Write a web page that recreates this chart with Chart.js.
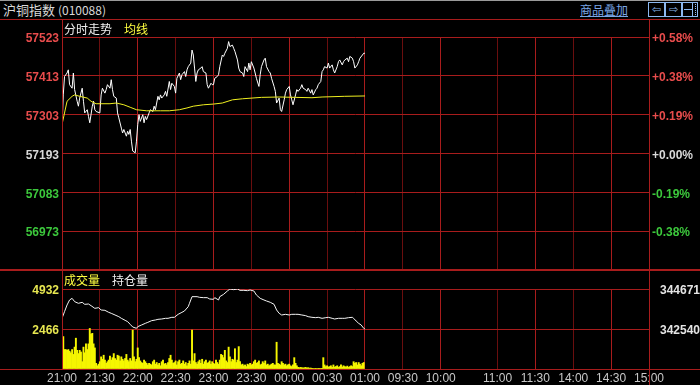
<!DOCTYPE html>
<html>
<head>
<meta charset="utf-8">
<script src="https://cdn.jsdelivr.net/npm/chart.js@4.4.1/dist/chart.umd.min.js"></script>
<style>
body { margin: 0; background: #000; }
#wrap { position: relative; width: 700px; height: 385px; background: #000; overflow: hidden;
        font-family: "Noto Sans CJK SC", "Liberation Sans", sans-serif; }
.txt { position: absolute; font-size: 12px; line-height: 14px; white-space: nowrap; }
.hl { position: absolute; left: 0; width: 700px; height: 1px; background: #a81c1c; }
.vl { position: absolute; width: 1px; background: #a81c1c; }
.btn { position: absolute; top: 2px; width: 15px; height: 13px; border: 1px solid #8cb8f0; color: #8cb8f0;
       font: 11px/13px "DejaVu Sans", sans-serif; text-align: center; }
#price_chart { position: absolute; left: 0; top: 19px; }
#vol_chart { position: absolute; left: 0; top: 271px; }
</style>
</head>
<body>
<div id="wrap">
  <div style="position:absolute;left:0;top:0;width:700px;height:1px;background:#9a9a9a"></div>
  <div class="txt" style="left:3px;top:3px;color:#d8d8d8;font-size:13px">沪铜指数 <span style="font-size:12px">(010088)</span></div>
  <div class="txt" style="left:580px;top:3px;color:#7aa6e6;font-size:12px;text-decoration:underline">商品叠加</div>
  <div class="btn" style="left:648px">⇦</div>
  <div class="btn" style="left:665px">⇨</div>
  <div class="btn" style="left:682px;width:14px">
    <div style="position:absolute;left:1px;top:6px;width:8px;height:1px;background:#8cb8f0"></div>
    <div style="position:absolute;left:9px;top:0;width:1px;height:13px;background:#8cb8f0"></div>
    <div style="position:absolute;left:12px;top:1px;width:1px;height:11px;border-left:1px dotted #8cb8f0"></div>
  </div>

  <canvas id="price_chart" width="700" height="252"></canvas>
  <canvas id="vol_chart" width="700" height="114"></canvas>

  <div class="hl" style="top:19px"></div>
  <div class="hl" style="top:269px;height:2px"></div>
  <div class="hl" style="top:369px"></div>
  <div class="vl" style="left:62px;top:19px;height:351px"></div>
  <div class="vl" style="left:649px;top:19px;height:366px"></div>

  <div class="txt" style="left:64px;top:22px;color:#f0f0f0">分时走势</div>
  <div class="txt" style="left:124px;top:22px;color:#ffff40">均线</div>
  <div class="txt" style="left:64px;top:273px;color:#ffff40">成交量</div>
  <div class="txt" style="left:112px;top:273px;color:#f0f0f0">持仓量</div>
</div>

<script>
// time axis: minutes counted from 21:00 on the trading clock
var tickMinutes = [0, 30, 60, 90, 120, 150, 180, 210, 240, 270, 300, 345, 375, 405, 435, 465];
var tickLabels = ['21:00', '21:30', '22:00', '22:30', '23:00', '23:30', '00:00', '00:30', '01:00',
                  '09:30', '10:00', '11:00', '11:30', '14:00', '14:30', '15:00'];

var basePrice = 57193;
var priceTicks = [56863, 56973, 57083, 57193, 57303, 57413, 57523];

var priceMin = [0, 1, 2, 4, 5, 6, 8, 9, 10, 12, 13, 14, 16, 17, 18, 20, 21, 22, 24, 25, 26, 27, 30, 31, 32, 34, 35, 36, 38, 39,
    40, 41, 43, 44, 45, 47, 48, 49, 51, 52, 53, 54, 55, 56, 58, 59, 60, 61, 62, 64, 65, 66, 67, 69, 70, 72, 73, 74, 76, 77,
    78, 79, 81, 82, 83, 85, 86, 87, 89, 90, 91, 93, 94, 95, 97, 98, 99, 100, 102, 103, 104, 105, 106, 107, 108, 110, 111, 112, 114, 115,
    116, 118, 119, 120, 121, 123, 124, 125, 127, 128, 129, 131, 132, 133, 135, 136, 137, 139, 140, 141, 143, 144, 145, 147, 148, 149, 150, 152, 153, 154,
    156, 157, 158, 160, 161, 162, 164, 165, 166, 168, 169, 170, 172, 173, 174, 176, 177, 178, 180, 181, 182, 183, 185, 186, 187, 189, 190, 191, 193, 194,
    195, 197, 198, 199, 201, 202, 203, 205, 206, 207, 208, 210, 211, 212, 214, 215, 216, 218, 219, 220, 222, 223, 224, 226, 227, 228, 230, 231, 232, 234,
    235, 236, 238, 239, 240];
var priceVal = [57265, 57359, 57411, 57421, 57430, 57388, 57378, 57421, 57374, 57341, 57327, 57350, 57378, 57341, 57308, 57317, 57298, 57280, 57327, 57341, 57317, 57312, 57308, 57359, 57378, 57364, 57374, 57388, 57378, 57402,
    57374, 57355, 57350, 57308, 57294, 57265, 57251, 57261, 57242, 57256, 57247, 57261, 57228, 57200, 57195, 57228, 57275, 57303, 57284, 57303, 57280, 57298, 57289, 57308, 57317, 57312, 57327, 57317, 57355, 57345,
    57359, 57350, 57359, 57369, 57355, 57397, 57374, 57392, 57383, 57364, 57406, 57421, 57402, 57416, 57425, 57411, 57430, 57439, 57449, 57486, 57472, 57435, 57397, 57421, 57430, 57435, 57439, 57425, 57421, 57388,
    57378, 57392, 57388, 57388, 57406, 57411, 57416, 57439, 57472, 57468, 57477, 57491, 57510, 57496, 57500, 57491, 57482, 57458, 57435, 57425, 57421, 57411, 57439, 57425, 57449, 57430, 57453, 57435, 57421, 57406,
    57383, 57416, 57439, 57458, 57463, 57439, 57425, 57421, 57406, 57383, 57369, 57336, 57350, 57317, 57312, 57345, 57364, 57374, 57383, 57359, 57345, 57331, 57359, 57374, 57369, 57378, 57388, 57378, 57374, 57369,
    57378, 57364, 57374, 57359, 57374, 57378, 57388, 57397, 57425, 57430, 57439, 57435, 57449, 57435, 57444, 57430, 57421, 57439, 57453, 57458, 57444, 57453, 57458, 57463, 57453, 57468, 57463, 57453, 57435, 57444,
    57453, 57463, 57472, 57477, 57477];

var avgMin = [0, 4, 8, 10, 14, 20, 23, 27, 38, 43, 49, 54, 59, 67, 78, 85, 93, 99, 104, 112, 120, 127, 135, 143, 158, 172, 185, 198, 206, 224, 240];
var avgVal = [57275, 57341, 57355, 57359, 57355, 57350, 57341, 57334, 57334, 57336, 57331, 57324, 57317, 57314, 57314, 57314, 57317, 57322, 57327, 57331,
    57333, 57336, 57345, 57348, 57352, 57353, 57352, 57351, 57353, 57355, 57356];

// volume per minute, 21:00 .. 00:59
var volTicks = [0, 2466, 4932];
var volVal = [
    4800, 2000, 1200, 1200, 1150, 1200, 1100, 1000, 1200, 900,
    1350, 1900, 1150, 950, 1150, 1050, 450, 1350, 1000, 1550,
    1200, 1550, 2500, 2150, 2200, 1550, 1300, 350, 200, 300,
    450, 750, 600, 850, 550, 350, 450, 550, 800, 550,
    700, 950, 650, 550, 850, 800, 500, 750, 600, 500,
    650, 900, 550, 450, 650, 500, 2400, 750, 450, 600,
    1300, 700, 500, 400, 350, 550, 450, 350, 250, 350,
    300, 250, 450, 550, 300, 400, 250, 350, 200, 450,
    550, 300, 350, 250, 400, 650, 850, 550, 350, 400,
    500, 250, 450, 550, 300, 350, 500, 300, 400, 200,
    350, 500, 300, 2400, 500, 950, 400, 300, 450, 550,
    350, 600, 300, 450, 550, 350, 400, 500, 300, 450,
    350, 300, 550, 400, 300, 550, 900, 850, 700, 1150,
    500, 400, 1350, 750, 450, 600, 550, 1250, 400, 550,
    1380, 450, 250, 300, 200, 250, 150, 300, 250, 350,
    250, 300, 450, 550, 350, 400, 500, 250, 300, 450,
    350, 500, 250, 300, 200, 250, 300, 350, 250, 250,
    1650, 350, 300, 250, 450, 350, 250, 300, 200, 250,
    300, 200, 150, 250, 700, 350, 200, 100, 80, 100,
    80, 60, 80, 100, 60, 80, 50, 60, 40, 30,
    30, 20, 30, 20, 20, 30, 20, 700, 250, 150,
    200, 120, 150, 200, 100, 250, 120, 150, 200, 100,
    150, 250, 120, 200, 150, 120, 180, 100, 150, 200,
    150, 450, 350, 400, 250, 400, 300, 200, 350, 400];

var oiTicks = [340409, 342540, 344671];
var oiMin = [0, 2, 4, 6, 8, 10, 13, 16, 18, 21, 23, 26, 29, 31, 34, 37, 39, 42, 45, 47, 50, 52, 54, 56, 59, 60, 63, 66, 68, 71,
    74, 76, 79, 82, 84, 87, 89, 92, 95, 97, 100, 101, 103, 107, 109, 112, 115, 117, 120, 121, 124, 125, 128, 131, 133, 136, 139, 141, 144, 147,
    149, 152, 154, 157, 160, 162, 165, 168, 170, 172, 174, 177, 180, 182, 185, 187, 190, 193, 195, 198, 201, 203, 206, 209, 211, 214, 216, 219, 222, 224,
    227, 230, 231, 233, 235, 237, 239, 240];
var oiVal = [343109, 343464, 343819, 344085, 344174, 343997, 343908, 343961, 343854, 343872, 343783, 343641, 343677, 343553, 343535, 343428, 343375, 343286, 343197, 343109,
    343002, 342931, 342789, 342647, 342576, 342665, 342753, 342842, 342895, 342984, 343020, 343055, 343073, 343109, 343109, 343162, 343162, 343322, 343428, 343499,
    343730, 343908, 344263, 344263, 344227, 344210, 344210, 344139, 344121, 344210, 344085, 344263, 344387, 344565, 344671, 344636, 344671, 344600, 344600, 344583,
    344618, 344565, 344352, 344174, 344085, 344032, 343961, 343854, 343553, 343375, 343286, 343322, 343286, 343322, 343322, 343322, 343286, 343251, 343197, 343162,
    343144, 343162, 343109, 343144, 343162, 343109, 343073, 343109, 343109, 343109, 343144, 343162, 343109, 342966, 342842, 342753, 342576, 342540];

var gridRed = '#a81c1c';
var gridDim = '#6a0e0e';

function pairs(xs, ys) {
    return xs.map(function (x, i) { return {x: x, y: ys[i]}; });
}

// keep the plot box fixed: no extra room for half labels at the ends
function noEndPadding(scale) {
    scale.paddingTop = 0;
    scale.paddingBottom = 0;
}

function timeAxis(showLabels) {
    return {
        type: 'linear',
        min: 0,
        max: 465,
        offset: false,
        afterBuildTicks: function (scale) {
            scale.ticks = tickMinutes.map(function (v) { return {value: v}; });
        },
        afterFit: function (scale) {
            scale.height = showLabels ? 16 : 1;
            scale.paddingLeft = 0;
            scale.paddingRight = 0;
        },
        border: {display: false},
        grid: {
            drawTicks: false,
            offset: false,
            color: function (ctx) { return ctx.index % 2 ? gridDim : gridRed; },
        },
        ticks: {
            display: showLabels,
            autoSkip: false,
            maxRotation: 0,
            padding: 2,
            color: '#c8c8c8',
            font: {family: 'Liberation Sans', size: 12},
            callback: function (v) { return tickLabels[tickMinutes.indexOf(v)]; }
        }
    };
}

function priceColor(ctx) {
    var v = ctx.tick.value;
    if (v > basePrice) return '#e84c4c';
    if (v < basePrice) return '#3cc83c';
    return '#d8d8d8';
}

function priceAxis(pos) {
    return {
        position: pos,
        min: priceTicks[0],
        max: priceTicks[priceTicks.length - 1],
        afterBuildTicks: function (scale) {
            scale.ticks = priceTicks.map(function (v) { return {value: v}; });
        },
        afterFit: function (scale) {
            scale.width = pos == 'left' ? 62 : 51;
            noEndPadding(scale);
        },
        border: {display: false},
        grid: {display: pos == 'left', drawTicks: false, color: gridRed},
        ticks: {
            padding: 3,
            labelOffset: 2,
            color: priceColor,
            font: {family: 'Liberation Sans', size: 12, weight: 'bold'},
            callback: function (v) {
                if (v == priceTicks[0]) return '';
                if (pos == 'left') return String(v);
                var pct = (v - basePrice) / basePrice * 100;
                return (pct >= 0 ? '+' : '') + pct.toFixed(2) + '%';
            }
        }
    };
}

var price_chart = new Chart(document.getElementById('price_chart'), {
    type: 'line',
    data: {
        datasets: [
            {
                label: '均线',
                data: pairs(avgMin, avgVal),
                borderColor: '#f0f020',
                borderWidth: 1,
                pointRadius: 0,
                yAxisID: 'y',
            },
            {
                label: '分时走势',
                data: pairs(priceMin, priceVal),
                borderColor: '#ffffff',
                borderWidth: 1,
                pointRadius: 0,
                yAxisID: 'y',
            }
        ]
    },
    options: {
        responsive: false,
        animation: false,
        layout: {padding: {top: 18, left: 0, right: 0, bottom: 0}},
        scales: {
            x: timeAxis(false),
            y: priceAxis('left'),
            yp: priceAxis('right'),
        },
        plugins: {
            legend: {display: false},
            tooltip: {enabled: false}
        }
    },
})

var vol_chart = new Chart(document.getElementById('vol_chart'), {
    type: 'bar',
    data: {
        datasets: [
            {
                type: 'line',
                label: '持仓量',
                data: pairs(oiMin, oiVal),
                borderColor: '#f4f4f4',
                borderWidth: 1,
                pointRadius: 0,
                yAxisID: 'yo',
            },
            {
                label: '成交量',
                data: volVal.map(function (v, i) { return {x: i, y: v}; }),
                backgroundColor: '#f6f600',
                barPercentage: 1,
                categoryPercentage: 1,
                yAxisID: 'yv',
            }
        ]
    },
    options: {
        responsive: false,
        animation: false,
        layout: {padding: {top: 18, left: 0, right: 0, bottom: 0}},
        scales: {
            x: timeAxis(true),
            yv: {
                position: 'left',
                min: 0,
                max: 4932,
                afterBuildTicks: function (scale) {
                    scale.ticks = volTicks.map(function (v) { return {value: v}; });
                },
                afterFit: function (scale) {
                    scale.width = 62;
                    noEndPadding(scale);
                },
                border: {display: false},
                grid: {drawTicks: false, color: gridRed},
                ticks: {
                    padding: 3,
                    labelOffset: 2,
                    color: '#e6e650',
                    font: {family: 'Liberation Sans', size: 12, weight: 'bold'},
                    callback: function (v) { return v == 0 ? '' : String(v); }
                }
            },
            yo: {
                position: 'right',
                min: oiTicks[0],
                max: oiTicks[2],
                afterBuildTicks: function (scale) {
                    scale.ticks = oiTicks.map(function (v) { return {value: v}; });
                },
                afterFit: function (scale) {
                    scale.width = 51;
                    noEndPadding(scale);
                },
                border: {display: false},
                grid: {display: false},
                ticks: {
                    padding: 3,
                    labelOffset: 2,
                    color: '#e4e4e4',
                    font: {family: 'Liberation Sans', size: 12, weight: 'bold'},
                    callback: function (v) { return v == oiTicks[0] ? '' : String(v); }
                }
            }
        },
        plugins: {
            legend: {display: false},
            tooltip: {enabled: false}
        }
    },
})
</script>
</body>
</html>
